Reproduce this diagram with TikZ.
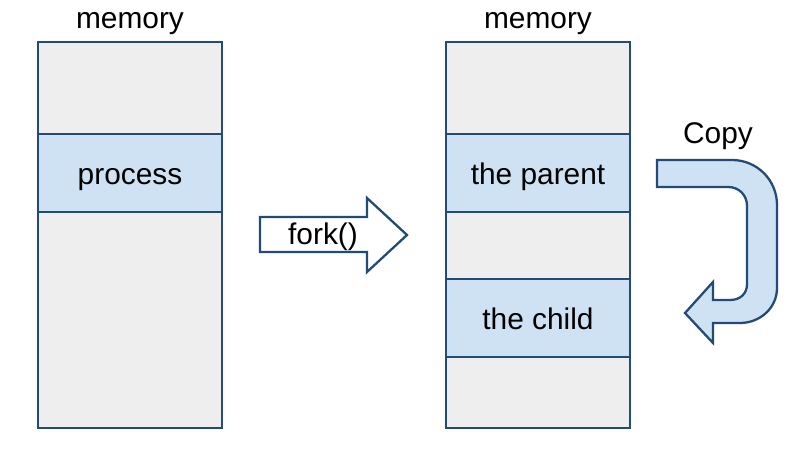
\documentclass[tikz,border=0pt]{standalone}
\usepackage{fontspec}
\setmainfont{Liberation Sans}
\definecolor{edgeblue}{RGB}{36,74,118}
\definecolor{memgray}{RGB}{238,238,238}
\definecolor{bandblue}{RGB}{207,226,243}

\begin{document}
\begin{tikzpicture}[x=0.02cm,y=-0.02cm,
  every node/.style={font=\fontsize{17}{20}\selectfont},
  memory/.style={draw=edgeblue,fill=memgray,line width=1.3pt,inner sep=0pt,
    minimum width=3.68cm,minimum height=7.72cm},
  band/.style={draw=edgeblue,fill=bandblue,line width=1.3pt,inner sep=0pt,
    minimum width=3.68cm,minimum height=1.56cm},
  bigarrow/.style={draw=edgeblue,line width=1.3pt,line join=miter}]
\useasboundingbox (0,0) rectangle (794,472);
\foreach \n/\x in {lmem/130, rmem/538}
{
  \node[memory] (\n) at (\x,235) {};
  \node[anchor=base] (\n-title) at (\x,29) {memory};
}
\foreach \n/\x/\y/\l in {
  process/130/173/{process},
  parent/538/173/{the parent},
  child/538/318/{the child}
}
{
  \node[band] (\n) at (\x,\y) {};
  \node[anchor=base] (\n-text) at (\x,\y+12) {\l};
}
% fork arrow
\draw[bigarrow,fill=white] (260,217) -- (367,217) -- (367,198) -- (407,235)
  -- (367,272) -- (367,252) -- (260,252) -- cycle;
\node[anchor=base] (fork) at (323,245) {fork()};
% copy arrow
\draw[bigarrow,fill=bandblue] (657,160) -- (732,160)
  .. controls (757,160) and (777,180) .. (777,205) -- (777,288)
  .. controls (777,308) and (760,323) .. (740,323) -- (713,323)
  -- (713,343) -- (685,313) -- (713,282) -- (713,300) -- (730,300)
  .. controls (740,300) and (747,294) .. (747,284) -- (747,206)
  .. controls (747,195) and (739,187) .. (728,187) -- (657,187) -- cycle;
\node[anchor=base] (copy) at (718,144) {Copy};
\end{tikzpicture}
\end{document}
